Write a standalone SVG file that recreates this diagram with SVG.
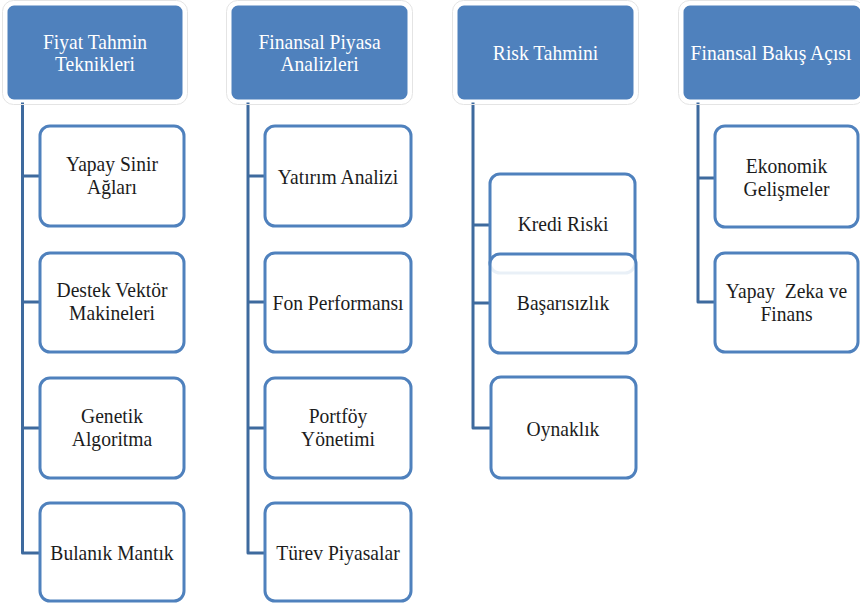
<svg xmlns="http://www.w3.org/2000/svg" width="860" height="606" viewBox="0 0 860 606">
  <style>
    .head-halo { fill: none; stroke: #e4e4e4; stroke-width: 1; }
    .head { fill: #4f81bd; stroke: #ffffff; stroke-width: 3; }
    .child { fill: #ffffff; stroke: #4f81bd; stroke-width: 3; }
    .child-soft { fill: #ffffff; fill-opacity: 0.88; stroke: #4f81bd; stroke-width: 3; }
    .link { fill: none; stroke: #3e6a9e; stroke-width: 3; stroke-linejoin: round; }
    text { font-family: 'Liberation Serif', Tinos, 'Times New Roman', 'DejaVu Serif', serif; font-size: 21.5px; text-anchor: middle; }
    .ht { fill: #ffffff; }
    .ct { fill: #1c1c1c; }
  </style>

  <rect x="0" y="0" width="860" height="606" fill="#ffffff"/>

  <!-- connectors -->
  <g id="connectors">
    <path class="link" d="M22.5 101 V553 H40 M22.5 176 H40 M22.5 302 H40 M22.5 428 H40"/>
    <path class="link" d="M248 101 V553 H265 M248 176 H265 M248 302 H265 M248 428 H265"/>
    <path class="link" d="M473 101 V428 H490 M473 225 H490 M473 303 H490"/>
    <path class="link" d="M698 101 V302 H715 M698 178 H715"/>
  </g>

  <!-- column 1 -->
  <g id="fiyat-tahmin">
    <rect class="head-halo" x="2.5" y="0.5" width="185" height="104" rx="11"/>
    <rect class="head" x="6" y="4" width="178" height="97" rx="8"/>
    <text class="ht" transform="translate(95,49) scale(0.91,1)"><tspan x="0">Fiyat Tahmin</tspan><tspan x="0" dy="22">Teknikleri</tspan></text>
  </g>
  <g id="yapay-sinir">
    <rect class="child" x="40" y="126" width="144" height="100" rx="10"/>
    <text class="ct" transform="translate(112,171) scale(0.91,1)"><tspan x="0">Yapay Sinir</tspan><tspan x="0" dy="23">Ağları</tspan></text>
  </g>
  <g id="destek-vektor">
    <rect class="child" x="40" y="253" width="144" height="99" rx="10"/>
    <text class="ct" transform="translate(112,297) scale(0.91,1)"><tspan x="0">Destek Vektör</tspan><tspan x="0" dy="23">Makineleri</tspan></text>
  </g>
  <g id="genetik">
    <rect class="child" x="40" y="378" width="144" height="100" rx="10"/>
    <text class="ct" transform="translate(112,423) scale(0.91,1)"><tspan x="0">Genetik</tspan><tspan x="0" dy="23">Algoritma</tspan></text>
  </g>
  <g id="bulanik">
    <rect class="child" x="40" y="503" width="144" height="98" rx="10"/>
    <text class="ct" transform="translate(112,560) scale(0.91,1)">Bulanık Mantık</text>
  </g>

  <!-- column 2 -->
  <g id="finansal-piyasa">
    <rect class="head-halo" x="226.5" y="0.5" width="186" height="104" rx="11"/>
    <rect class="head" x="230" y="4" width="179" height="97" rx="8"/>
    <text class="ht" transform="translate(319.5,49) scale(0.91,1)"><tspan x="0">Finansal Piyasa</tspan><tspan x="0" dy="22">Analizleri</tspan></text>
  </g>
  <g id="yatirim">
    <rect class="child" x="265" y="126" width="146" height="100" rx="10"/>
    <text class="ct" transform="translate(338,184) scale(0.91,1)">Yatırım Analizi</text>
  </g>
  <g id="fon">
    <rect class="child" x="265" y="253" width="146" height="99" rx="10"/>
    <text class="ct" transform="translate(338,310) scale(0.91,1)">Fon Performansı</text>
  </g>
  <g id="portfoy">
    <rect class="child" x="265" y="378" width="146" height="100" rx="10"/>
    <text class="ct" transform="translate(338,423) scale(0.91,1)"><tspan x="0">Portföy</tspan><tspan x="0" dy="23">Yönetimi</tspan></text>
  </g>
  <g id="turev">
    <rect class="child" x="265" y="503" width="146" height="98" rx="10"/>
    <text class="ct" transform="translate(338,560) scale(0.91,1)">Türev Piyasalar</text>
  </g>

  <!-- column 3 -->
  <g id="risk-tahmini">
    <rect class="head-halo" x="452.5" y="0.5" width="186" height="104" rx="11"/>
    <rect class="head" x="456" y="4" width="179" height="97" rx="8"/>
    <text class="ht" transform="translate(545.5,60) scale(0.91,1)">Risk Tahmini</text>
  </g>
  <g id="kredi-riski">
    <rect class="child" x="490" y="174" width="145" height="99" rx="10"/>
    <text class="ct" transform="translate(563,231) scale(0.91,1)">Kredi Riski</text>
  </g>
  <g id="basarisizlik">
    <rect class="child-soft" x="490" y="254" width="146" height="99" rx="10"/>
    <text class="ct" transform="translate(563,310) scale(0.91,1)">Başarısızlık</text>
  </g>
  <g id="oynaklik">
    <rect class="child" x="491" y="377" width="145" height="101" rx="10"/>
    <text class="ct" transform="translate(563,436) scale(0.91,1)">Oynaklık</text>
  </g>

  <!-- column 4 -->
  <g id="finansal-bakis">
    <rect class="head-halo" x="678.5" y="0.5" width="186" height="104" rx="11"/>
    <rect class="head" x="682" y="4" width="180" height="97" rx="8"/>
    <text class="ht" transform="translate(771,60) scale(0.91,1)">Finansal Bakış Açısı</text>
  </g>
  <g id="ekonomik">
    <rect class="child" x="715" y="126" width="143" height="101" rx="10"/>
    <text class="ct" transform="translate(786.5,173) scale(0.91,1)"><tspan x="0">Ekonomik</tspan><tspan x="0" dy="23">Gelişmeler</tspan></text>
  </g>
  <g id="yapay-zeka">
    <rect class="child" x="715" y="253" width="143" height="99" rx="10"/>
    <text class="ct" transform="translate(786.5,298) scale(0.91,1)" style="white-space:pre"><tspan x="0">Yapay  Zeka ve</tspan><tspan x="0" dy="23">Finans</tspan></text>
  </g>
</svg>
